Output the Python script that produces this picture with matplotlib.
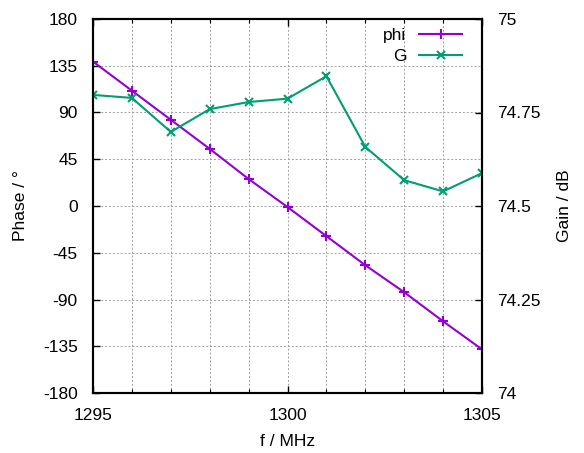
import matplotlib
matplotlib.use("Agg")
import matplotlib.pyplot as plt
from matplotlib.ticker import MultipleLocator

plt.rcParams['font.family'] = ['Liberation Sans', 'DejaVu Sans']
plt.rcParams['axes.unicode_minus'] = False

freq = [1295, 1296, 1297, 1298, 1299, 1300, 1301, 1302, 1303, 1304, 1305]
phi = [139, 111, 83, 55, 26, -1, -29, -57, -83, -111, -138]
gain = [74.797, 74.789, 74.698, 74.759, 74.778, 74.787, 74.847, 74.658, 74.569, 74.539, 74.588]

phase_ticks = [-180, -135, -90, -45, 0, 45, 90, 135, 180]
gain_ticks = [74, 74.25, 74.5, 74.75, 75]
gain_labels = ['74', '74.25', '74.5', '74.75', '75']
freq_ticks = [1295, 1300, 1305]

fig = plt.figure(figsize=(5.84, 4.53), dpi=100)
ax = fig.add_axes([93/584, 60/453, (482-93)/584, (393-19)/453])
ax2 = ax.twinx()

purple = '#9400D3'
green = '#009E73'

l1, = ax.plot(freq, phi, color=purple, lw=1.5, marker='+', ms=7, mew=1.5, label='phi')
l2, = ax2.plot(freq, gain, color=green, lw=1.5, marker='x', ms=6, mew=1.5, label='G')

ax.set_xlim(1295, 1305)
ax.set_ylim(-180, 180)
ax2.set_ylim(74, 75)
ax.set_xticks(freq_ticks)
ax.xaxis.set_minor_locator(MultipleLocator(1))
ax.set_yticks(phase_ticks)
ax2.set_yticks(gain_ticks)
ax2.set_yticklabels(gain_labels)

ax.grid(True, which='both', axis='x', color='#a0a0a0', ls=(0, (2, 2)), lw=0.7)
ax.grid(True, which='major', axis='y', color='#a0a0a0', ls=(0, (2, 2)), lw=0.7)

ax.tick_params(axis='both', which='major', direction='in', length=5, width=1, labelsize=12.5, pad=11, top=True)
ax.tick_params(axis='x', which='minor', direction='in', length=3, width=0.8, top=True)
ax2.tick_params(axis='y', which='major', direction='in', length=5, width=1, labelsize=12.5, pad=11)

for a in (ax, ax2):
    for s in a.spines.values():
        s.set_linewidth(1.5)

ax.set_xlabel('f / MHz', fontsize=12.5, labelpad=8)
ax.set_ylabel('Phase / °', fontsize=12.5, labelpad=11)
ax2.set_ylabel('Gain / dB', fontsize=12.5, labelpad=12)

leg = ax.legend([l1, l2], ['phi', 'G'], loc='upper right', bbox_to_anchor=(0.967, 0.996),
                frameon=False, markerfirst=False,
                fontsize=12.5, handlelength=2.5, borderaxespad=0.0, labelspacing=0.35, handletextpad=0.7)
for t in leg.get_texts():
    t.set_ha('right')

fig.savefig('out.png', dpi=100)
